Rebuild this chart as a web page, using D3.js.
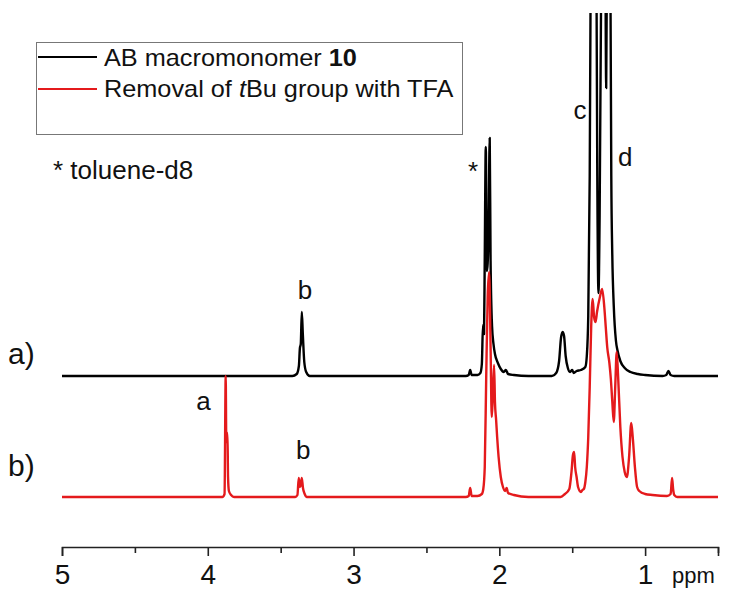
<!DOCTYPE html>
<html>
<head>
<meta charset="utf-8">
<script src="https://cdnjs.cloudflare.com/ajax/libs/d3/7.8.5/d3.min.js"></script>
<style>
  body { margin: 0; background: #fff; }
  svg { font-family: "Liberation Sans", Arial, sans-serif; }
</style>
</head>
<body>
<div id="chart"></div>
<script>
// [ppm, intensity above the trace baseline]
var spectrumA = [
  [5.0,0],[3.42,0],[3.39,2],[3.375,10],[3.368,28],[3.362,32],[3.355,64],[3.348,42],[3.338,14],[3.325,4],[3.30,0],
  [2.23,0],[2.21,1],[2.20,6],[2.19,1],[2.15,1],[2.13,3],[2.12,12],[2.112,51],[2.105,42],[2.10,120],[2.093,229],
  [2.085,105],[2.075,135],[2.066,238],[2.06,115],[2.05,50],[2.04,32],[2.03,22],[2.01,13],[1.99,7],[1.97,4],
  [1.955,6],[1.94,2],[1.90,1],[1.80,0],[1.64,0],[1.61,3],[1.59,15],[1.577,38],[1.566,44],[1.556,40],[1.545,20],
  [1.53,8],[1.515,4],[1.50,6],[1.49,3],[1.47,5],[1.44,6],[1.41,9],[1.40,20],[1.39,60],[1.38,200],[1.372,450],
  [1.362,800],[1.345,800],[1.335,450],[1.328,200],[1.32,83],[1.312,160],[1.30,420],[1.288,800],[1.275,520],
  [1.267,288],[1.258,520],[1.247,800],[1.238,400],[1.232,200],[1.225,120],[1.215,70],[1.20,35],[1.19,26],
  [1.17,15],[1.14,8],[1.10,4],[1.05,2],[1.00,1],[0.88,0],[0.855,1],[0.84,5],[0.825,1],[0.80,0],[0.5,0]
];

var spectrumB = [
  [5.0,0],[3.90,0],[3.885,3],[3.877,121],[3.873,55],[3.869,64],[3.865,64],[3.861,20],[3.855,6],[3.84,2],[3.82,0],
  [3.40,0],[3.385,2],[3.376,19],[3.368,10],[3.362,12],[3.355,19],[3.347,9],[3.335,3],[3.32,0],
  [2.23,0],[2.21,1],[2.20,9],[2.19,1],[2.15,1],[2.12,3],[2.11,8],[2.10,30],[2.09,120],[2.08,200],[2.07,225],
  [2.06,150],[2.052,80],[2.045,100],[2.036,132],[2.03,95],[2.022,77],[2.015,60],[2.005,40],[1.99,20],
  [1.975,10],[1.96,6],[1.95,9],[1.94,4],[1.90,2],[1.80,0],[1.58,0],[1.55,3],[1.52,8],[1.505,25],[1.495,42],
  [1.487,45],[1.48,30],[1.47,20],[1.46,10],[1.44,5],[1.43,7],[1.42,8],[1.41,15],[1.40,30],[1.39,60],
  [1.38,110],[1.37,170],[1.36,198],[1.35,180],[1.34,175],[1.33,185],[1.31,200],[1.295,208],[1.28,190],
  [1.27,170],[1.26,150],[1.245,134],[1.235,118],[1.225,95],[1.215,75],[1.205,110],[1.195,145],[1.185,120],
  [1.17,70],[1.155,40],[1.14,25],[1.125,20],[1.11,40],[1.095,74],[1.085,60],[1.07,30],[1.055,10],[1.04,6],
  [1.00,3],[0.95,2],[0.85,1],[0.825,3],[0.815,19],[0.808,8],[0.80,2],[0.78,0],[0.5,0]
];

var seriesNames = ["AB macromonomer ", "Removal of "];
var seriesColors = ["#000000", "#e41a1c"];
var offsets = [144, 23];
var majorTicks = [5, 4, 3, 2, 1];
var minorTicks = [4.5, 3.5, 2.5, 1.5, 0.5];

// peak letters: [ppm, level on the intensity scale, text]
var peakLabels = [
  [3.333, 221, "b"], [4.03, 110, "a"], [3.346, 61, "b"],
  [2.18, 340, "*"], [1.446, 401, "c"], [1.137, 354, "d"]
];

var svgWidth = 736, svgHeight = 590;

var svg = d3.select("#chart").append("svg")
  .attr("width", svgWidth)
  .attr("height", svgHeight);

var x = d3.scaleLinear().domain([5, 0.5]).range([62, 718]);
var y = d3.scaleLinear().domain([0, 500]).range([520, 20]);

svg.append("clipPath").attr("id", "plotclip")
  .append("rect").attr("x", 0).attr("y", 13).attr("width", svgWidth).attr("height", 530);

var line = d3.line()
  .x(d => x(d[0]))
  .y(d => d[2])
  .curve(d3.curveMonotoneX);

[spectrumA, spectrumB].forEach((spec, i) => {
  var pts = spec.map(d => [d[0], d[1], y(d[1] + offsets[i])]);
  svg.append("path")
    .attr("d", line(pts))
    .attr("fill", "none")
    .attr("stroke", seriesColors[i])
    .attr("stroke-width", 2.4)
    .attr("stroke-linejoin", "round")
    .attr("clip-path", "url(#plotclip)");
});

// bottom axis, major and minor ticks
var axisY = 547;
svg.append("g")
  .attr("transform", `translate(0,${axisY})`)
  .call(d3.axisBottom(x).tickValues(majorTicks).tickSize(9).tickPadding(8).tickFormat(d3.format("d")))
  .call(g => g.select(".domain").attr("stroke", "#222").attr("stroke-width", 1.6))
  .call(g => g.selectAll(".tick line").attr("stroke", "#222").attr("stroke-width", 1.6))
  .call(g => g.selectAll(".tick text").attr("font-size", 28).attr("fill", "#111")
    .attr("font-family", "Liberation Sans, Arial, sans-serif"));

svg.append("g")
  .attr("transform", `translate(0,${axisY})`)
  .call(d3.axisBottom(x).tickValues(minorTicks).tickSize(6).tickFormat(""))
  .call(g => g.select(".domain").remove())
  .call(g => g.selectAll(".tick line").attr("stroke", "#222").attr("stroke-width", 1.6));

svg.append("text")
  .attr("x", 672).attr("y", 583)
  .attr("font-size", 22).attr("fill", "#111")
  .text("ppm");

// peak letters
svg.selectAll(".peak")
  .data(peakLabels)
  .join("text")
  .attr("class", "peak")
  .attr("x", d => x(d[0]))
  .attr("y", d => y(d[1]))
  .attr("text-anchor", "middle")
  .attr("font-size", 26)
  .attr("fill", "#111")
  .text(d => d[2]);

// trace labels
svg.append("text").attr("x", 8).attr("y", 364).attr("font-size", 30).attr("fill", "#111").text("a)");
svg.append("text").attr("x", 8).attr("y", 476).attr("font-size", 30).attr("fill", "#111").text("b)");

svg.append("text").attr("x", 53).attr("y", 179).attr("font-size", 26).attr("fill", "#111").text("* toluene-d8");

// legend
var legend = svg.append("g");
legend.append("rect")
  .attr("x", 36.5).attr("y", 42.5).attr("width", 426).attr("height", 92)
  .attr("fill", "none").attr("stroke", "#777").attr("stroke-width", 1);

[57, 89].forEach((ly, i) => {
  legend.append("line")
    .attr("x1", 38).attr("x2", 97).attr("y1", ly).attr("y2", ly)
    .attr("stroke", seriesColors[i]).attr("stroke-width", 2);
});

var t1 = legend.append("text").attr("transform", "translate(104,66) scale(1.1,1)")
  .attr("font-size", 23).attr("fill", "#111");
t1.append("tspan").text(seriesNames[0]);
t1.append("tspan").attr("font-weight", "bold").text("10");

var t2 = legend.append("text").attr("transform", "translate(104,97) scale(1.1,1)")
  .attr("font-size", 23).attr("fill", "#111");
t2.append("tspan").text(seriesNames[1]);
t2.append("tspan").attr("font-style", "italic").text("t");
t2.append("tspan").text("Bu group with TFA");
</script>
</body>
</html>
